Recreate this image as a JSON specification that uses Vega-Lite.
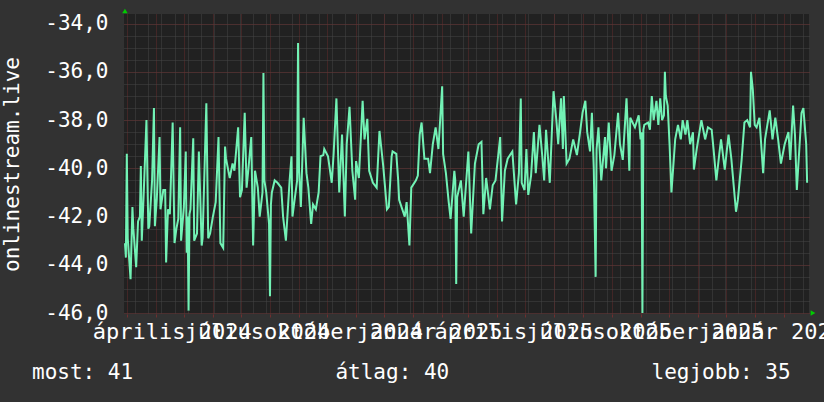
{
  "$schema": "https://vega.github.io/schema/vega-lite/v6.json",
  "width": 685,
  "height": 300,
  "autosize": {"type": "none"},
  "padding": {"left": 124, "top": 14, "right": 15, "bottom": 88},
  "background": "#323232",
  "config": {
    "view": {"fill": "#212121", "stroke": null},
    "font": "DejaVu Sans Mono",
    "locale": {
      "number": {"decimal": ",", "thousands": " ", "grouping": [3], "currency": ["", " Ft"], "minus": "-"},
      "time": {
        "dateTime": "%Y. %B %-e., %A %X",
        "date": "%Y. %m. %d.",
        "time": "%H:%M:%S",
        "periods": ["de.", "du."],
        "days": ["vasárnap", "hétfő", "kedd", "szerda", "csütörtök", "péntek", "szombat"],
        "shortDays": ["V", "H", "K", "Sze", "Cs", "P", "Szo"],
        "months": ["január", "február", "március", "április", "május", "június", "július", "augusztus", "szeptember", "október", "november", "december"],
        "shortMonths": ["jan.", "feb.", "már.", "ápr.", "máj.", "jún.", "júl.", "aug.", "szept.", "okt.", "nov.", "dec."]
      }
    }
  },
  "title": {
    "text": "most: 41\u00a0\u00a0\u00a0\u00a0\u00a0\u00a0\u00a0\u00a0\u00a0\u00a0\u00a0\u00a0\u00a0\u00a0\u00a0\u00a0átlag: 40\u00a0\u00a0\u00a0\u00a0\u00a0\u00a0\u00a0\u00a0\u00a0\u00a0\u00a0\u00a0\u00a0\u00a0\u00a0\u00a0legjobb: 35",
    "orient": "bottom",
    "anchor": "start",
    "frame": "group",
    "dx": -92,
    "offset": 20,
    "font": "DejaVu Sans Mono",
    "fontSize": 21,
    "fontWeight": "normal",
    "color": "#ffffff"
  },
  "data": {"values": [
    {"t": "2024-02-28", "v": -43.1}, {"t": "2024-02-29", "v": -43.7}, {"t": "2024-03-01", "v": -39.4}, {"t": "2024-03-02", "v": -42.9},
    {"t": "2024-03-05", "v": -44.6}, {"t": "2024-03-07", "v": -41.6}, {"t": "2024-03-08", "v": -42.5}, {"t": "2024-03-11", "v": -44.1},
    {"t": "2024-03-13", "v": -42.2}, {"t": "2024-03-15", "v": -42.0}, {"t": "2024-03-16", "v": -39.9}, {"t": "2024-03-17", "v": -43.0},
    {"t": "2024-03-19", "v": -41.1}, {"t": "2024-03-22", "v": -38.0}, {"t": "2024-03-24", "v": -42.5}, {"t": "2024-03-25", "v": -42.4},
    {"t": "2024-03-28", "v": -40.5}, {"t": "2024-03-30", "v": -37.5}, {"t": "2024-03-31", "v": -42.4}, {"t": "2024-04-02", "v": -41.3},
    {"t": "2024-04-05", "v": -38.7}, {"t": "2024-04-06", "v": -41.7}, {"t": "2024-04-09", "v": -40.9}, {"t": "2024-04-11", "v": -40.9},
    {"t": "2024-04-12", "v": -43.9}, {"t": "2024-04-14", "v": -41.7}, {"t": "2024-04-16", "v": -41.9}, {"t": "2024-04-19", "v": -38.1},
    {"t": "2024-04-21", "v": -43.1}, {"t": "2024-04-23", "v": -42.5}, {"t": "2024-04-25", "v": -42.1}, {"t": "2024-04-27", "v": -38.3},
    {"t": "2024-04-28", "v": -43.0}, {"t": "2024-05-01", "v": -41.6}, {"t": "2024-05-03", "v": -39.3}, {"t": "2024-05-04", "v": -43.5},
    {"t": "2024-05-05", "v": -42.0}, {"t": "2024-05-06", "v": -45.9}, {"t": "2024-05-07", "v": -41.9}, {"t": "2024-05-08", "v": -41.7},
    {"t": "2024-05-11", "v": -38.75}, {"t": "2024-05-12", "v": -43.0}, {"t": "2024-05-15", "v": -42.7}, {"t": "2024-05-17", "v": -39.3},
    {"t": "2024-05-20", "v": -43.2}, {"t": "2024-05-21", "v": -42.9}, {"t": "2024-05-25", "v": -37.3}, {"t": "2024-05-27", "v": -42.9},
    {"t": "2024-05-29", "v": -42.7}, {"t": "2024-06-01", "v": -42.0}, {"t": "2024-06-04", "v": -41.4}, {"t": "2024-06-07", "v": -38.7},
    {"t": "2024-06-09", "v": -43.1}, {"t": "2024-06-12", "v": -43.3}, {"t": "2024-06-14", "v": -39.1}, {"t": "2024-06-15", "v": -39.6},
    {"t": "2024-06-19", "v": -40.4}, {"t": "2024-06-22", "v": -39.8}, {"t": "2024-06-24", "v": -40.1}, {"t": "2024-06-28", "v": -38.3},
    {"t": "2024-06-30", "v": -41.2}, {"t": "2024-07-02", "v": -40.9}, {"t": "2024-07-05", "v": -37.7}, {"t": "2024-07-07", "v": -40.8},
    {"t": "2024-07-09", "v": -40.0}, {"t": "2024-07-12", "v": -38.7}, {"t": "2024-07-14", "v": -43.2}, {"t": "2024-07-16", "v": -40.1},
    {"t": "2024-07-19", "v": -40.8}, {"t": "2024-07-21", "v": -42.0}, {"t": "2024-07-24", "v": -41.0}, {"t": "2024-07-25", "v": -36.05},
    {"t": "2024-07-26", "v": -40.5}, {"t": "2024-07-28", "v": -41.0}, {"t": "2024-07-31", "v": -42.3}, {"t": "2024-08-01", "v": -45.3},
    {"t": "2024-08-02", "v": -41.5}, {"t": "2024-08-03", "v": -41.0}, {"t": "2024-08-06", "v": -40.5}, {"t": "2024-08-09", "v": -40.6},
    {"t": "2024-08-13", "v": -40.8}, {"t": "2024-08-15", "v": -42.0}, {"t": "2024-08-18", "v": -43.0}, {"t": "2024-08-22", "v": -40.5},
    {"t": "2024-08-24", "v": -39.5}, {"t": "2024-08-25", "v": -42.0}, {"t": "2024-08-30", "v": -40.5}, {"t": "2024-08-31", "v": -34.8},
    {"t": "2024-09-01", "v": -40.0}, {"t": "2024-09-03", "v": -41.6}, {"t": "2024-09-06", "v": -37.9}, {"t": "2024-09-09", "v": -40.2},
    {"t": "2024-09-11", "v": -40.8}, {"t": "2024-09-14", "v": -42.3}, {"t": "2024-09-16", "v": -41.5}, {"t": "2024-09-19", "v": -41.7},
    {"t": "2024-09-22", "v": -41.0}, {"t": "2024-09-24", "v": -39.5}, {"t": "2024-09-27", "v": -39.45}, {"t": "2024-09-28", "v": -39.2},
    {"t": "2024-10-02", "v": -39.5}, {"t": "2024-10-06", "v": -40.6}, {"t": "2024-10-08", "v": -39.4}, {"t": "2024-10-11", "v": -37.1},
    {"t": "2024-10-14", "v": -41.0}, {"t": "2024-10-17", "v": -38.6}, {"t": "2024-10-20", "v": -42.0}, {"t": "2024-10-22", "v": -39.0},
    {"t": "2024-10-25", "v": -37.45}, {"t": "2024-10-28", "v": -40.1}, {"t": "2024-10-31", "v": -41.3}, {"t": "2024-11-01", "v": -39.7},
    {"t": "2024-11-04", "v": -40.4}, {"t": "2024-11-08", "v": -37.2}, {"t": "2024-11-10", "v": -38.8}, {"t": "2024-11-13", "v": -37.95},
    {"t": "2024-11-15", "v": -40.1}, {"t": "2024-11-19", "v": -40.6}, {"t": "2024-11-23", "v": -40.8}, {"t": "2024-11-26", "v": -38.45},
    {"t": "2024-11-30", "v": -39.9}, {"t": "2024-12-04", "v": -41.7}, {"t": "2024-12-06", "v": -41.6}, {"t": "2024-12-09", "v": -39.5},
    {"t": "2024-12-10", "v": -39.3}, {"t": "2024-12-14", "v": -39.4}, {"t": "2024-12-16", "v": -40.5}, {"t": "2024-12-17", "v": -41.3},
    {"t": "2024-12-23", "v": -42.0}, {"t": "2024-12-25", "v": -41.4}, {"t": "2024-12-28", "v": -43.2}, {"t": "2024-12-30", "v": -40.8},
    {"t": "2025-01-04", "v": -40.5}, {"t": "2025-01-06", "v": -40.3}, {"t": "2025-01-08", "v": -38.6}, {"t": "2025-01-10", "v": -38.1},
    {"t": "2025-01-13", "v": -39.6}, {"t": "2025-01-17", "v": -39.6}, {"t": "2025-01-19", "v": -40.2}, {"t": "2025-01-22", "v": -39.0},
    {"t": "2025-01-25", "v": -38.3}, {"t": "2025-01-28", "v": -39.2}, {"t": "2025-02-01", "v": -36.6}, {"t": "2025-02-02", "v": -39.4},
    {"t": "2025-02-05", "v": -40.2}, {"t": "2025-02-08", "v": -41.4}, {"t": "2025-02-10", "v": -42.1}, {"t": "2025-02-14", "v": -40.1},
    {"t": "2025-02-15", "v": -40.5}, {"t": "2025-02-16", "v": -44.8}, {"t": "2025-02-17", "v": -41.2}, {"t": "2025-02-21", "v": -40.5},
    {"t": "2025-02-24", "v": -42.0}, {"t": "2025-03-01", "v": -39.3}, {"t": "2025-03-04", "v": -42.7}, {"t": "2025-03-08", "v": -39.8},
    {"t": "2025-03-12", "v": -39.0}, {"t": "2025-03-15", "v": -38.9}, {"t": "2025-03-17", "v": -41.9}, {"t": "2025-03-20", "v": -40.4},
    {"t": "2025-03-24", "v": -41.7}, {"t": "2025-03-27", "v": -40.7}, {"t": "2025-03-30", "v": -40.5}, {"t": "2025-04-04", "v": -38.7},
    {"t": "2025-04-06", "v": -42.2}, {"t": "2025-04-09", "v": -40.1}, {"t": "2025-04-12", "v": -39.6}, {"t": "2025-04-17", "v": -39.3},
    {"t": "2025-04-21", "v": -41.5}, {"t": "2025-04-24", "v": -40.2}, {"t": "2025-04-26", "v": -37.1}, {"t": "2025-04-27", "v": -40.6},
    {"t": "2025-04-30", "v": -40.9}, {"t": "2025-05-02", "v": -39.2}, {"t": "2025-05-04", "v": -41.1}, {"t": "2025-05-07", "v": -40.3},
    {"t": "2025-05-10", "v": -38.5}, {"t": "2025-05-12", "v": -40.2}, {"t": "2025-05-16", "v": -38.2}, {"t": "2025-05-19", "v": -39.5},
    {"t": "2025-05-21", "v": -40.5}, {"t": "2025-05-23", "v": -38.4}, {"t": "2025-05-27", "v": -40.6}, {"t": "2025-05-31", "v": -36.8},
    {"t": "2025-06-03", "v": -38.0}, {"t": "2025-06-05", "v": -39.0}, {"t": "2025-06-08", "v": -37.1}, {"t": "2025-06-10", "v": -39.2},
    {"t": "2025-06-11", "v": -37.0}, {"t": "2025-06-14", "v": -39.8}, {"t": "2025-06-17", "v": -39.6}, {"t": "2025-06-21", "v": -38.8},
    {"t": "2025-06-25", "v": -39.45}, {"t": "2025-06-28", "v": -38.6}, {"t": "2025-07-01", "v": -37.7}, {"t": "2025-07-04", "v": -37.2},
    {"t": "2025-07-06", "v": -38.5}, {"t": "2025-07-09", "v": -39.3}, {"t": "2025-07-11", "v": -37.7}, {"t": "2025-07-13", "v": -40.0},
    {"t": "2025-07-15", "v": -44.5}, {"t": "2025-07-16", "v": -39.2}, {"t": "2025-07-18", "v": -38.3}, {"t": "2025-07-21", "v": -40.5},
    {"t": "2025-07-25", "v": -38.7}, {"t": "2025-07-26", "v": -40.0}, {"t": "2025-07-29", "v": -38.1}, {"t": "2025-08-01", "v": -40.1},
    {"t": "2025-08-04", "v": -39.45}, {"t": "2025-08-08", "v": -37.7}, {"t": "2025-08-10", "v": -39.0}, {"t": "2025-08-13", "v": -39.65},
    {"t": "2025-08-17", "v": -37.1}, {"t": "2025-08-19", "v": -39.0}, {"t": "2025-08-20", "v": -40.1}, {"t": "2025-08-21", "v": -37.9},
    {"t": "2025-08-26", "v": -38.3}, {"t": "2025-08-30", "v": -37.8}, {"t": "2025-09-01", "v": -38.8}, {"t": "2025-09-02", "v": -38.5},
    {"t": "2025-09-03", "v": -46.0}, {"t": "2025-09-04", "v": -38.4}, {"t": "2025-09-05", "v": -38.2}, {"t": "2025-09-09", "v": -38.1},
    {"t": "2025-09-11", "v": -38.4}, {"t": "2025-09-13", "v": -37.0}, {"t": "2025-09-15", "v": -38.0}, {"t": "2025-09-18", "v": -37.2},
    {"t": "2025-09-20", "v": -38.2}, {"t": "2025-09-22", "v": -37.1}, {"t": "2025-09-24", "v": -38.0}, {"t": "2025-09-26", "v": -37.8},
    {"t": "2025-09-27", "v": -36.0}, {"t": "2025-09-28", "v": -37.0}, {"t": "2025-09-30", "v": -37.4}, {"t": "2025-10-02", "v": -39.0},
    {"t": "2025-10-04", "v": -41.0}, {"t": "2025-10-06", "v": -39.9}, {"t": "2025-10-08", "v": -38.8}, {"t": "2025-10-11", "v": -38.2},
    {"t": "2025-10-14", "v": -38.8}, {"t": "2025-10-16", "v": -38.0}, {"t": "2025-10-19", "v": -38.6}, {"t": "2025-10-21", "v": -38.0},
    {"t": "2025-10-24", "v": -39.0}, {"t": "2025-10-27", "v": -38.5}, {"t": "2025-10-28", "v": -40.05}, {"t": "2025-10-31", "v": -39.2},
    {"t": "2025-11-05", "v": -38.0}, {"t": "2025-11-09", "v": -38.8}, {"t": "2025-11-12", "v": -38.3}, {"t": "2025-11-16", "v": -38.4},
    {"t": "2025-11-18", "v": -39.2}, {"t": "2025-11-21", "v": -40.5}, {"t": "2025-11-24", "v": -39.45}, {"t": "2025-11-26", "v": -38.8},
    {"t": "2025-11-30", "v": -40.05}, {"t": "2025-12-04", "v": -38.6}, {"t": "2025-12-07", "v": -39.6}, {"t": "2025-12-12", "v": -41.8},
    {"t": "2025-12-14", "v": -41.3}, {"t": "2025-12-18", "v": -39.65}, {"t": "2025-12-21", "v": -38.1}, {"t": "2025-12-24", "v": -38.0},
    {"t": "2025-12-27", "v": -38.3}, {"t": "2025-12-28", "v": -36.0}, {"t": "2025-12-30", "v": -36.75}, {"t": "2026-01-01", "v": -38.2},
    {"t": "2026-01-03", "v": -38.3}, {"t": "2026-01-06", "v": -37.9}, {"t": "2026-01-10", "v": -40.2}, {"t": "2026-01-12", "v": -38.8},
    {"t": "2026-01-17", "v": -37.6}, {"t": "2026-01-20", "v": -38.8}, {"t": "2026-01-23", "v": -37.9}, {"t": "2026-01-26", "v": -38.8},
    {"t": "2026-01-29", "v": -39.8}, {"t": "2026-02-02", "v": -39.0}, {"t": "2026-02-06", "v": -38.5}, {"t": "2026-02-08", "v": -39.65},
    {"t": "2026-02-11", "v": -37.4}, {"t": "2026-02-13", "v": -38.6}, {"t": "2026-02-15", "v": -40.9}, {"t": "2026-02-20", "v": -37.7},
    {"t": "2026-02-22", "v": -37.5}, {"t": "2026-02-25", "v": -39.0}, {"t": "2026-02-26", "v": -40.6}
  ]},
  "layer": [
    {
      "mark": {"type": "line", "opacity": 0},
      "encoding": {
        "x": {"field": "t", "type": "temporal",
          "scale": {"type": "utc", "domain": [{"year": 2024, "month": 2, "date": 27, "utc": true}, {"year": 2026, "month": 2, "date": 28, "utc": true}]},
          "axis": {"orient": "bottom", "grid": true, "gridColor": "#474747", "gridDash": [1, 1], "gridWidth": 1, "tickCount": {"interval": "week", "step": 2}, "labels": false, "ticks": false, "domain": false, "title": null}},
        "y": {"field": "v", "type": "quantitative",
          "scale": {"domain": [-46.04, -33.6], "nice": false, "zero": false},
          "axis": {"orient": "left", "values": [-46, -45.5, -45, -44.5, -44, -43.5, -43, -42.5, -42, -41.5, -41, -40.5, -40, -39.5, -39, -38.5, -38, -37.5, -37, -36.5, -36, -35.5, -35, -34.5, -34], "grid": true, "gridColor": "#474747", "gridDash": [1, 1], "labels": false, "ticks": false, "domain": false, "title": null}}
      }
    },
    {
      "mark": {"type": "line", "opacity": 0},
      "encoding": {
        "x": {"field": "t", "type": "temporal",
          "axis": {"orient": "bottom", "grid": true, "gridColor": "#652c2c", "gridDash": [1, 1], "gridWidth": 1, "tickCount": {"interval": "month", "step": 1}, "labels": false, "ticks": true, "tickColor": "#6e2f2f", "tickSize": 3, "domain": false, "title": null}},
        "y": {"field": "v", "type": "quantitative",
          "axis": {"orient": "left", "values": [-46, -44, -42, -40, -38, -36, -34], "grid": true, "gridColor": "#652c2c", "gridDash": [1, 1], "labels": false, "ticks": false, "domain": false, "title": null}}
      }
    },
    {
      "mark": {"type": "line", "color": "#72f2b5", "strokeWidth": 2, "clip": true},
      "encoding": {
        "x": {"field": "t", "type": "temporal",
          "axis": {"orient": "bottom", "grid": false, "ticks": false, "domain": false, "title": null, "tickCount": {"interval": "month", "step": 3}, "format": "%B %Y", "labelOverlap": false, "labelBound": false, "labelFlush": false, "labelOffset": 16, "labelFont": "DejaVu Sans Mono", "labelFontSize": 22, "labelColor": "#ffffff", "labelBaseline": "alphabetic", "labelPadding": 24}},
        "y": {"field": "v", "type": "quantitative",
          "axis": {"orient": "left", "values": [-46, -44, -42, -40, -38, -36, -34], "format": ".1f", "grid": false, "ticks": false, "domain": false, "labelFont": "DejaVu Sans Mono", "labelFontSize": 21, "labelColor": "#ffffff", "labelPadding": 16, "title": "onlinestream.live", "titleFont": "DejaVu Sans Mono", "titleFontSize": 21, "titleFontWeight": "normal", "titleColor": "#ffffff", "titleX": -106, "titleY": 150, "titleAngle": -90, "titleAlign": "center", "titleBaseline": "alphabetic"}}
      }
    },
    {
      "data": {"values": [{"t": "2024-02-28", "v": -33.6}]},
      "mark": {"type": "point", "shape": "triangle-up", "filled": true, "color": "#00cc00", "size": 30, "opacity": 1, "yOffset": -3},
      "encoding": {
        "x": {"field": "t", "type": "temporal", "axis": null},
        "y": {"field": "v", "type": "quantitative", "axis": null}
      }
    },
    {
      "data": {"values": [{"t": "2026-02-28", "v": -46.0}]},
      "mark": {"type": "point", "shape": "triangle-right", "filled": true, "color": "#00cc00", "size": 30, "opacity": 1, "xOffset": 4, "clip": false},
      "encoding": {
        "x": {"field": "t", "type": "temporal", "axis": null},
        "y": {"field": "v", "type": "quantitative", "axis": null}
      }
    }
  ],
  "resolve": {"axis": {"x": "independent", "y": "independent"}}
}
